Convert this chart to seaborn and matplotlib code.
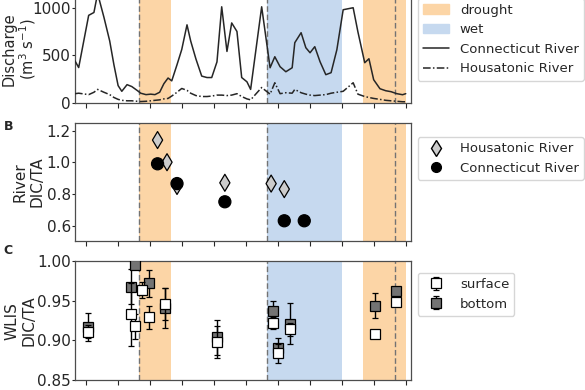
import matplotlib
matplotlib.use("Agg")  # no display

import matplotlib.dates as mdates
import matplotlib.pyplot as plt
import matplotlib.ticker as mticker
import pandas as pd
import seaborn as sns
from matplotlib.lines import Line2D
from matplotlib.patches import Patch

# River discharge (m3 s-1)
flow_dates = [
    "2015-12-11", "2015-12-18", "2016-01-06", "2016-01-16", "2016-01-23",
    "2016-02-04", "2016-02-15", "2016-02-23", "2016-03-02", "2016-03-09",
    "2016-03-19", "2016-03-28", "2016-04-07", "2016-04-14", "2016-04-24",
    "2016-05-03", "2016-05-11", "2016-05-20", "2016-05-28", "2016-06-05",
    "2016-06-12", "2016-06-22", "2016-07-01", "2016-07-11", "2016-07-18",
    "2016-07-28", "2016-08-08", "2016-08-18", "2016-08-27", "2016-09-06",
    "2016-09-15", "2016-09-25", "2016-10-04", "2016-10-14", "2016-10-23",
    "2016-11-02", "2016-11-09", "2016-11-30", "2016-12-16", "2016-12-25",
    "2017-01-04", "2017-01-15", "2017-01-27", "2017-02-01", "2017-02-13",
    "2017-02-22", "2017-03-02", "2017-03-11", "2017-03-21", "2017-04-01",
    "2017-04-11", "2017-04-22", "2017-05-04", "2017-05-23", "2017-06-01",
    "2017-06-14", "2017-06-22", "2017-07-01", "2017-07-13", "2017-07-24",
    "2017-08-03", "2017-08-14", "2017-08-25", "2017-08-31",
]
ct_flow = [
    440, 370, 920, 950, 1150, 900, 650, 400, 180, 120,
    190, 170, 130, 100, 85, 90, 85, 110, 200, 260,
    230, 400, 560, 820, 650, 460, 280, 265, 265, 430,
    1010, 540, 840, 750, 265, 220, 140, 1010, 368, 484,
    379, 326, 368, 632, 737, 579, 526, 590, 432, 295,
    316, 558, 979, 1000, 747, 421, 463, 242, 147, 126,
    116, 95, 84, 95,
]
hr_flow = [
    95, 100, 85, 110, 140, 110, 85, 55, 35, 25,
    20, 20, 15, 12, 15, 20, 25, 30, 40, 45,
    70, 110, 150, 130, 100, 75, 65, 65, 70, 80,
    80, 75, 80, 95, 65, 40, 30, 160, 90, 210,
    95, 105, 100, 140, 105, 90, 80, 75, 80, 85,
    100, 110, 120, 210, 90, 65, 55, 45, 35, 25,
    20, 15, 10, 10,
]

# River end-member DIC/TA
hr_dates = ["2016-05-16", "2016-06-03", "2016-06-22", "2016-09-21", "2016-12-18", "2017-01-12"]
hr_ratio = [1.14, 1.00, 0.85, 0.87, 0.865, 0.83]
ct_dates = ["2016-05-16", "2016-06-22", "2016-09-21", "2017-01-12", "2017-02-19"]
ct_ratio = [0.99, 0.865, 0.75, 0.63, 0.63]

# Western Long Island Sound DIC/TA (mean and spread)
wlis_dates = [
    "2016-01-05", "2016-03-26", "2016-04-03", "2016-04-16", "2016-04-30", "2016-05-30",
    "2016-09-06", "2016-12-22", "2016-12-31", "2017-01-23", "2017-07-03", "2017-08-12",
]
surf_ratio = [0.911, 0.933, 0.918, 0.964, 0.929, 0.946, 0.898, 0.922, 0.884, 0.914, 0.908, 0.949]
surf_err = [0.008, 0.040, 0.016, 0.010, 0.015, 0.020, 0.020, 0.008, 0.012, 0.008, 0.003, 0.004]
bot_ratio = [0.917, 0.968, 0.995, float("nan"), 0.972, 0.941, 0.904, 0.937, 0.891, 0.921, 0.944, 0.963]
bot_err = [0.018, 0.022, 0.005, 0.0, 0.017, 0.025, 0.022, 0.013, 0.012, 0.026, 0.016, 0.004]

# Hydrological periods
drought_periods = [("2016-04-10", "2016-06-10"), ("2017-06-11", "2017-09-01")]
wet_periods = [("2016-12-10", "2017-05-02")]
marker_dates = ["2016-04-10", "2016-12-10", "2017-08-10"]

DROUGHT_COLOR = "#fcd5a6"
WET_COLOR = "#c6d9ef"

sns.set_theme(style="ticks", context="notebook")
plt.rcParams["font.family"] = ["DejaVu Sans"]

flow = pd.DataFrame({
    "date": pd.to_datetime(flow_dates * 2),
    "discharge": ct_flow + hr_flow,
    "river": ["Connecticut River"] * len(ct_flow) + ["Housatonic River"] * len(hr_flow),
})
river = pd.DataFrame({
    "date": pd.to_datetime(hr_dates + ct_dates),
    "ratio": hr_ratio + ct_ratio,
    "river": ["Housatonic River"] * len(hr_ratio) + ["Connecticut River"] * len(ct_ratio),
})
wlis = pd.DataFrame({
    "date": pd.to_datetime(wlis_dates),
    "surf": surf_ratio, "surf_err": surf_err,
    "bot": bot_ratio, "bot_err": bot_err,
})

fig, axes = plt.subplots(3, 1, sharex=True, figsize=(5.85, 3.9), dpi=100)
fig.subplots_adjust(left=75 / 585, right=411 / 585, top=406 / 390, bottom=10 / 390,
                    hspace=20 / 119)

for ax in axes:
    for start, end in drought_periods:
        ax.axvspan(pd.Timestamp(start), pd.Timestamp(end), color=DROUGHT_COLOR, lw=0, zorder=0)
    for start, end in wet_periods:
        ax.axvspan(pd.Timestamp(start), pd.Timestamp(end), color=WET_COLOR, lw=0, zorder=0)
    for d in marker_dates:
        ax.axvline(pd.Timestamp(d), color="0.45", ls=(0, (4, 2)), lw=1, zorder=1)
    ax.tick_params(axis="x", labelsize=11, length=3.5, width=0.8, colors="0.15")
    ax.tick_params(axis="y", labelsize=11, length=2, pad=1, width=0.8, colors="0.15")
    for sp in ax.spines.values():
        sp.set_color("0.3")
        sp.set_linewidth(0.9)

# A: discharge
ax = axes[0]
sns.lineplot(data=flow, x="date", y="discharge", hue="river", style="river",
             palette={"Connecticut River": "0.15", "Housatonic River": "0.15"},
             dashes={"Connecticut River": "", "Housatonic River": (5, 1.5, 1, 1.5)},
             lw=1.1, ax=ax, legend=False, zorder=3)
ax.set_ylim(0, 1250)
ax.set_yticks([0, 500, 1000])
ax.set_ylabel("Discharge\n(m$^3$ s$^{-1}$)", fontsize=10.5, linespacing=1.0)
ax.yaxis.set_label_coords(-0.111, 0.45)
ax.set_xlabel("")
handles = [
    Patch(color=DROUGHT_COLOR, label="drought"),
    Patch(color=WET_COLOR, label="wet"),
    Line2D([], [], color="0.15", lw=1.1, label="Connecticut River"),
    Line2D([], [], color="0.15", lw=1.1, ls=(0, (5, 1.5, 1, 1.5)), label="Housatonic River"),
]
ax.legend(handles=handles, loc="upper left", bbox_to_anchor=(1.0, 0.935), fontsize=9.5)

# B: river DIC/TA
ax = axes[1]
sns.scatterplot(data=river, x="date", y="ratio", hue="river", style="river",
                palette={"Housatonic River": "0.8", "Connecticut River": "black"},
                markers={"Housatonic River": "d", "Connecticut River": "o"},
                s=75, edgecolor="black", linewidth=0.9, ax=ax, legend=False, zorder=3)
ax.set_ylim(0.5, 1.25)
ax.set_yticks([0.6, 0.8, 1.0, 1.2])
ax.set_ylabel("River\nDIC/TA", fontsize=11)
ax.yaxis.set_label_coords(-0.09, 0.5)
ax.set_xlabel("")
handles = [
    Line2D([], [], ls="", marker="d", ms=8, mfc="0.8", mec="black", label="Housatonic River"),
    Line2D([], [], ls="", marker="o", ms=7, mfc="black", mec="black", label="Connecticut River"),
]
ax.legend(handles=handles, loc="upper left", bbox_to_anchor=(1.0, 0.935), fontsize=9.5)

# C: WLIS DIC/TA
ax = axes[2]
bot = ax.errorbar(wlis["date"], wlis["bot"], yerr=wlis["bot_err"], fmt="s", ms=7,
                  mfc="0.45", mec="black", mew=0.9, ecolor="black", elinewidth=1,
                  capsize=2, label="bottom", zorder=3)
surf = ax.errorbar(wlis["date"], wlis["surf"], yerr=wlis["surf_err"], fmt="s", ms=7,
                   mfc="white", mec="black", mew=0.9, ecolor="black", elinewidth=1,
                   capsize=2, label="surface", zorder=4)
ax.set_ylim(0.85, 1.0)
ax.set_yticks([0.85, 0.90, 0.95, 1.00])
ax.yaxis.set_major_formatter(mticker.FormatStrFormatter("%.2f"))
ax.set_ylabel("WLIS\nDIC/TA", fontsize=11)
ax.yaxis.set_label_coords(-0.114, 0.5)
ax.legend(handles=[surf, bot], labels=["surface", "bottom"], loc="upper left",
          bbox_to_anchor=(1.0, 0.96), fontsize=9.5)

ax.set_xlim(pd.Timestamp("2015-12-11"), pd.Timestamp("2017-09-10"))
ax.xaxis.set_major_locator(mdates.MonthLocator(bymonth=[1, 3, 5, 7, 9, 11]))
ax.xaxis.set_major_formatter(mdates.DateFormatter("%b %Y"))
plt.setp(ax.get_xticklabels(), rotation=45, ha="right")

fig.text(0.006, 1 - 127 / 390, "B", fontsize=9, fontweight="bold", va="center")
fig.text(0.006, 1 - 250 / 390, "C", fontsize=9, fontweight="bold", va="center")

fig.savefig("out.png", dpi=100)
plt.close(fig)
